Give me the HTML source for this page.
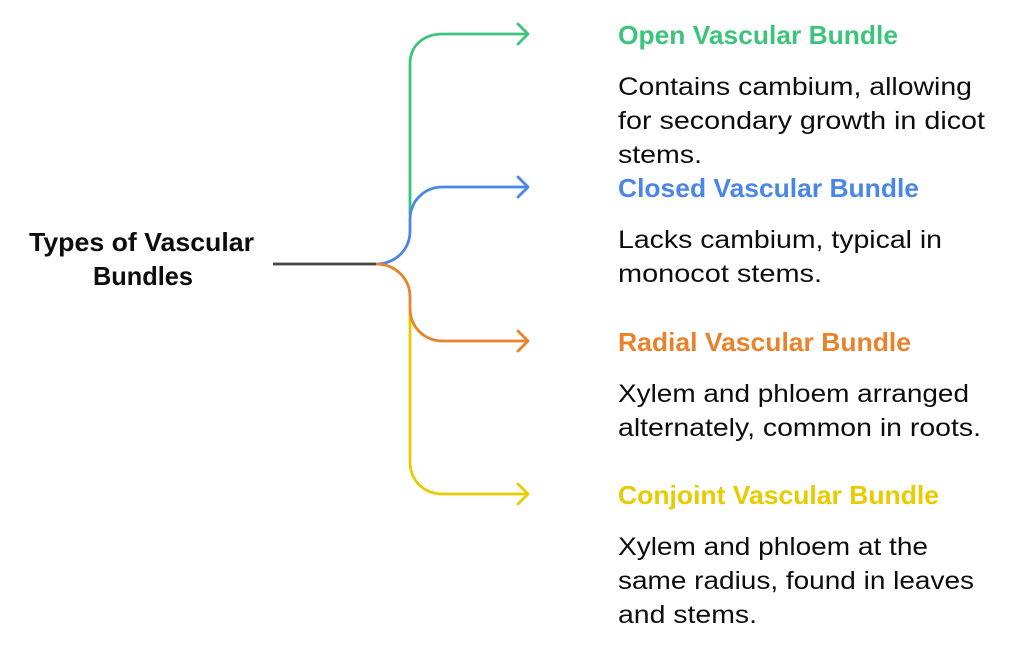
<!DOCTYPE html>
<html><head><meta charset="utf-8"><style>
html,body{margin:0;padding:0;background:#fff;}
svg{display:block;}
text{font-family:"Liberation Sans",Arial,sans-serif;}
.t{font-weight:bold;font-size:26px;}
.b{font-size:25px;fill:#0d0d0d;}
</style></head><body>
<svg width="1024" height="648" viewBox="0 0 1024 648" xmlns="http://www.w3.org/2000/svg">
<g fill="none" stroke-width="2.8" stroke-linecap="round" stroke-linejoin="round">
<path d="M410 214 V64 C410 45 424 34 443 34 H527" stroke="#3cc47c"/>
<path d="M518 24 L528 34 L518 44" stroke="#3cc47c"/>
<path d="M410 310 V461 C410 481 424 494 443 494 H527" stroke="#e8cc00"/>
<path d="M518 484 L528 494 L518 504" stroke="#e8cc00"/>
<path d="M376 264 C395 264 410 250 410 231 V220 C410 201 424 187 443 187 H527" stroke="#4a86e8"/>
<path d="M518 177 L528 187 L518 197" stroke="#4a86e8"/>
<path d="M376 264 C395 264 410 278 410 297 V308 C410 327 424 341 443 341 H527" stroke="#e8832c"/>
<path d="M518 331 L528 341 L518 351" stroke="#e8832c"/>
<path d="M273 264 H376" stroke="#444" stroke-linecap="butt"/>
</g>
<text class="t" x="29" y="251" textLength="225" lengthAdjust="spacingAndGlyphs" fill="#0d0d0d">Types of Vascular</text>
<text class="t" x="93" y="285" textLength="100" lengthAdjust="spacingAndGlyphs" fill="#0d0d0d">Bundles</text>

<text class="t" x="618" y="44" textLength="280" lengthAdjust="spacingAndGlyphs" fill="#3cc47c">Open Vascular Bundle</text>
<text class="b" x="618" y="95" textLength="354" lengthAdjust="spacingAndGlyphs">Contains cambium, allowing</text>
<text class="b" x="618" y="129" textLength="367" lengthAdjust="spacingAndGlyphs">for secondary growth in dicot</text>
<text class="b" x="618" y="163" textLength="84" lengthAdjust="spacingAndGlyphs">stems.</text>

<text class="t" x="618" y="197" textLength="301" lengthAdjust="spacingAndGlyphs" fill="#4a86e8">Closed Vascular Bundle</text>
<text class="b" x="618" y="248" textLength="324" lengthAdjust="spacingAndGlyphs">Lacks cambium, typical in</text>
<text class="b" x="618" y="282" textLength="204" lengthAdjust="spacingAndGlyphs">monocot stems.</text>

<text class="t" x="618" y="351" textLength="293" lengthAdjust="spacingAndGlyphs" fill="#e8832c">Radial Vascular Bundle</text>
<text class="b" x="618" y="402" textLength="351" lengthAdjust="spacingAndGlyphs">Xylem and phloem arranged</text>
<text class="b" x="618" y="436" textLength="363" lengthAdjust="spacingAndGlyphs">alternately, common in roots.</text>

<text class="t" x="618" y="504" textLength="321" lengthAdjust="spacingAndGlyphs" fill="#e6cc00">Conjoint Vascular Bundle</text>
<text class="b" x="618" y="555" textLength="310" lengthAdjust="spacingAndGlyphs">Xylem and phloem at the</text>
<text class="b" x="618" y="589" textLength="356" lengthAdjust="spacingAndGlyphs">same radius, found in leaves</text>
<text class="b" x="618" y="623" textLength="139" lengthAdjust="spacingAndGlyphs">and stems.</text>
</svg>
</body></html>
